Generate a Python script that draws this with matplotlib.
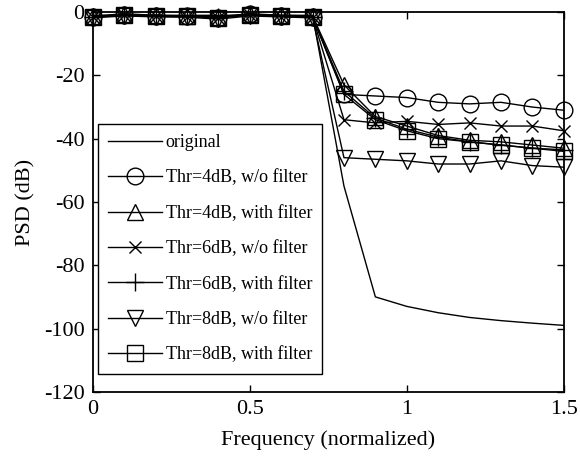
import matplotlib
matplotlib.use("Agg")
import matplotlib.pyplot as plt

# datos
freq = [0, 0.1, 0.2, 0.3, 0.4, 0.5, 0.6, 0.7, 0.8, 0.9, 1.0, 1.1, 1.2, 1.3, 1.4, 1.5]

original = [-1.0, -1.0, -1.0, -1.0, -1.0, -1.0, -1.0, -1.0,
            -55, -90, -93, -95, -96.5, -97.5, -98.3, -99]
thr4_sin = [-1.5, -0.8, -1.2, -1.3, -1.8, -0.6, -1.2, -1.5,
            -26, -26.5, -27, -28.5, -29, -28.5, -30, -31]
thr4_con = [-1.3, -0.5, -1.0, -1.2, -1.4, -0.5, -1.0, -1.2,
            -23, -33, -36, -39, -40.5, -41, -42, -43]
thr6_sin = [-1.6, -1.0, -1.3, -1.4, -1.9, -0.9, -1.4, -1.6,
            -34, -35, -34.5, -35.5, -35, -36, -36, -37.5]
thr6_con = [-1.4, -0.8, -1.1, -1.2, -1.6, -0.7, -1.1, -1.4,
            -25, -33.5, -37, -39.5, -41, -42, -43, -43.5]
thr8_sin = [-1.8, -1.2, -1.5, -1.6, -2.2, -1.2, -1.5, -1.8,
            -46, -46.5, -47, -48, -48, -47, -48.5, -49]
thr8_con = [-1.5, -0.9, -1.2, -1.3, -1.7, -0.8, -1.2, -1.5,
            -26, -34, -37.5, -40, -41, -42, -43, -44]

etiquetas = ["original",
             "Thr=4dB, w/o filter", "Thr=4dB, with filter",
             "Thr=6dB, w/o filter", "Thr=6dB, with filter",
             "Thr=8dB, w/o filter", "Thr=8dB, with filter"]

plt.rcParams["font.family"] = "Liberation Serif"
plt.rcParams["axes.unicode_minus"] = False

fig = plt.figure(figsize=(5.8, 4.67), dpi=100)
ax = fig.add_axes([0.160, 0.161, 0.812, 0.813])

estilo = dict(color="k", linewidth=1.0, markerfacecolor="none",
              markeredgecolor="k", markeredgewidth=1.0, clip_on=False)

ax.plot(freq, original, color="k", linewidth=1.0, label=etiquetas[0])
ax.plot(freq, thr4_sin, marker="o", markersize=12, label=etiquetas[1], **estilo)
ax.plot(freq, thr4_con, marker="^", markersize=12, label=etiquetas[2], **estilo)
ax.plot(freq, thr6_sin, marker="x", markersize=8, label=etiquetas[3], **estilo)
ax.plot(freq, thr6_con, marker="+", markersize=13, label=etiquetas[4], **estilo)
ax.plot(freq, thr8_sin, marker="v", markersize=12, label=etiquetas[5], **estilo)
ax.plot(freq, thr8_con, marker="s", markersize=11, label=etiquetas[6], **estilo)

ax.set_xlim(0, 1.5)
ax.set_ylim(-120, 0)
ax.set_xticks([0, 0.5, 1, 1.5])
ax.set_xticklabels(["0", "0.5", "1", "1.5"])
ax.set_yticks([-120, -100, -80, -60, -40, -20, 0])
ax.tick_params(direction="in", length=5, width=1.0, top=True, right=True,
               labelsize=16, pad=6)
for s in ax.spines.values():
    s.set_linewidth(1.3)

ax.set_xlabel("Frequency (normalized)", fontsize=16, labelpad=8)
ax.set_ylabel("PSD (dB)", fontsize=16, labelpad=6)

leg = ax.legend(loc="upper left", bbox_to_anchor=(0.011, 0.705),
                borderaxespad=0, fontsize=13, handlelength=3.0,
                handletextpad=0.2, labelspacing=1.02, borderpad=0.55,
                fancybox=False, framealpha=1)
leg.get_frame().set_edgecolor("k")
leg.get_frame().set_linewidth(1.0)

plt.savefig("out.png", dpi=100)
